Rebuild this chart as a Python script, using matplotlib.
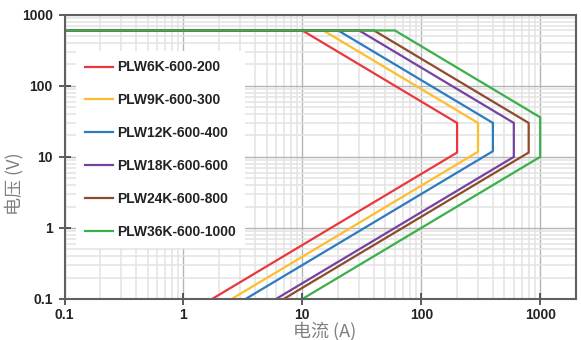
import matplotlib
matplotlib.use("Agg")
import matplotlib.pyplot as plt
from matplotlib.ticker import FixedLocator, FixedFormatter, LogLocator, NullFormatter

# ---- data ----
series_names = ["PLW6K-600-200", "PLW9K-600-300", "PLW12K-600-400",
                "PLW18K-600-600", "PLW24K-600-800", "PLW36K-600-1000"]
red_I = [0.1, 10, 200, 200, 1.74]
red_V = [600, 600, 30, 11.5, 0.1]
yellow_I = [0.1, 15, 300, 300, 2.54]
yellow_V = [600, 600, 30, 11.8, 0.1]
blue_I = [0.1, 20, 400, 400, 3.33]
blue_V = [600, 600, 30, 12, 0.1]
purple_I = [0.1, 30, 600, 600, 6.0]
purple_V = [600, 600, 30, 10, 0.1]
brown_I = [0.1, 40, 800, 800, 6.96]
brown_V = [600, 600, 30, 11.5, 0.1]
green_I = [0.1, 60, 1000, 1000, 10]
green_V = [600, 600, 36, 10, 0.1]

tick_values = [0.1, 1, 10, 100, 1000]
tick_labels = ["0.1", "1", "10", "100", "1000"]
xlabel = "电流 (A)"
ylabel = "电压 (V)"

currents = [red_I, yellow_I, blue_I, purple_I, brown_I, green_I]
voltages = [red_V, yellow_V, blue_V, purple_V, brown_V, green_V]
colors = ["#E8383D", "#FDBE2E", "#2C7BBF", "#7442A0", "#8E4B2B", "#3AAF4B"]

plt.rcParams['font.family'] = ['Liberation Sans', 'DejaVu Sans']

fig = plt.figure(figsize=(5.81, 3.40), dpi=100)
ax = fig.add_axes([64.5 / 581, 41 / 340, (576 - 64.5) / 581, (299 - 14.7) / 340])

for I, V, c, name in zip(currents, voltages, colors, series_names):
    ax.plot(I, V, color=c, lw=1.6, label=name, solid_joinstyle='miter')

ax.set_xscale('log')
ax.set_yscale('log')
ax.set_xlim(0.1, 2000)
ax.set_ylim(0.1, 1000)

for axis in (ax.xaxis, ax.yaxis):
    axis.set_major_locator(FixedLocator(tick_values))
    axis.set_major_formatter(FixedFormatter(tick_labels))
    axis.set_minor_locator(LogLocator(base=10, subs=range(2, 10), numticks=20))
    axis.set_minor_formatter(NullFormatter())

ax.grid(which='minor', color='#e3e3e3', lw=1.1)
ax.grid(which='major', color='#b5b5b5', lw=1.0)
ax.set_axisbelow(True)

ax.tick_params(which='major', direction='inout', length=9, width=1.2, color='#404040',
               labelsize=10, labelcolor='#222222', pad=4)
ax.tick_params(axis='x', which='major', pad=2)
ax.tick_params(which='minor', length=0)
for lab in ax.get_xticklabels() + ax.get_yticklabels():
    lab.set_fontweight('bold')

for s in ax.spines.values():
    s.set_color('#606060')
    s.set_linewidth(1.5)

cjk = ['Noto Sans CJK SC', 'DejaVu Sans']
ax.set_xlabel(xlabel, fontsize=13, color='#7f7f7f', family=cjk)
ax.set_ylabel(ylabel, fontsize=13, color='#7f7f7f', family=cjk)
ax.xaxis.set_label_coords(0.509, -0.078)
ax.yaxis.set_label_coords(-0.080, 0.405)

leg = ax.legend(loc='upper left', bbox_to_anchor=((76 - 64.5) / 511.5, (299 - 51) / 284.3),
                borderaxespad=0, frameon=True, fancybox=False, edgecolor='none',
                facecolor='white', framealpha=1, handlelength=2.0, handletextpad=0.25,
                labelspacing=1.36, borderpad=0.68, prop={'size': 10, 'weight': 'bold'})
for t in leg.get_texts():
    t.set_color('#222222')

fig.savefig("out.png", dpi=100)
